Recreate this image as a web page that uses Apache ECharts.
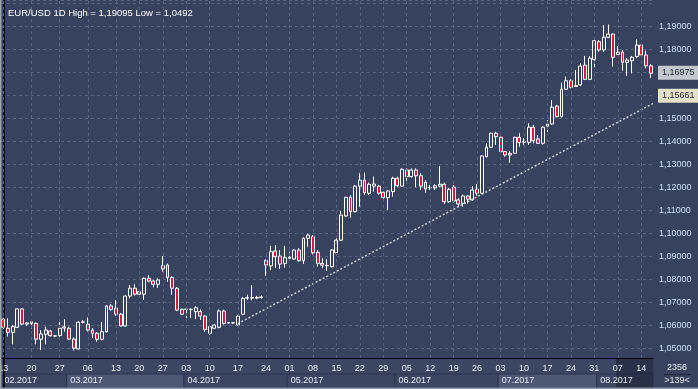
<!DOCTYPE html>
<html>
<head>
<meta charset="utf-8">
<script src="https://cdn.jsdelivr.net/npm/echarts@6/dist/echarts.min.js"></script>
<style>
html,body{margin:0;padding:0;background:#37425e;}
#c{width:698px;height:389px;}
</style>
</head>
<body>
<div id="c"></div>
<script>
// ---- data ----
const opens = [1.0628,1.0589,1.0571,1.0593,1.0673,1.0607,1.0610,1.0610,1.0541,1.0563,
1.0577,1.0556,1.0557,1.0590,1.0589,1.0542,1.0499,1.0615,1.0607,1.0581,
1.0567,1.0541,1.0574,1.0686,1.0676,1.0650,1.0599,1.0729,1.0763,1.0737,
1.0737,1.0806,1.0794,1.0780,1.0847,1.0864,1.0810,1.0763,1.0671,1.0671,
1.0671,1.0661,1.0661,1.0642,1.0567,1.0589,1.0593,1.0664,1.0612,1.0612,
1.0603,1.0650,1.0720,1.0722,1.0720,1.0723,1.0884,1.0860,1.0925,1.0903,
1.0871,1.0893,1.0890,1.0929,1.0883,1.0980,1.0987,1.0919,1.0871,1.0861,
1.0857,1.0917,1.0972,1.1077,1.1158,1.1096,1.1207,1.1233,1.1176,1.1207,
1.1207,1.1180,1.1157,1.1183,1.1241,1.1207,1.1277,1.1248,1.1277,1.1252,
1.1223,1.1200,1.1199,1.1207,1.1215,1.1139,1.1202,1.1147,1.1132,1.1164,
1.1147,1.1193,1.1176,1.1335,1.1376,1.1437,1.1419,1.1357,1.1349,1.1350,
1.1419,1.1398,1.1397,1.1463,1.1412,1.1393,1.1468,1.1477,1.1555,1.1509,
1.1628,1.1665,1.1640,1.1647,1.1733,1.1671,1.1758,1.1835,1.1799,1.1854,
1.1868,1.1779,1.1789,1.1745,1.1752,1.1770,1.1820,1.1777,1.1730];
const closes = [1.0593,1.0571,1.0596,1.0673,1.0607,1.0612,1.0617,1.0541,1.0564,1.0581,
1.0557,1.0555,1.0589,1.0595,1.0542,1.0502,1.0615,1.0617,1.0581,1.0567,
1.0541,1.0574,1.0686,1.0671,1.0650,1.0599,1.0729,1.0763,1.0737,1.0748,
1.0806,1.0794,1.0780,1.0799,1.0861,1.0810,1.0763,1.0668,1.0650,1.0672,
1.0670,1.0678,1.0642,1.0584,1.0596,1.0603,1.0664,1.0610,1.0613,1.0613,
1.0642,1.0718,1.0722,1.0720,1.0723,1.0725,1.0864,1.0922,1.0900,1.0868,
1.0896,1.0898,1.0929,1.0883,1.0980,1.0994,1.0917,1.0871,1.0863,1.0862,
1.0929,1.0972,1.1081,1.1158,1.1096,1.1207,1.1233,1.1178,1.1215,1.1216,
1.1176,1.1157,1.1186,1.1241,1.1209,1.1280,1.1248,1.1277,1.1252,1.1207,
1.1194,1.1201,1.1208,1.1215,1.1139,1.1193,1.1142,1.1129,1.1164,1.1150,
1.1190,1.1176,1.1338,1.1376,1.1437,1.1422,1.1357,1.1342,1.1342,1.1419,
1.1397,1.1400,1.1463,1.1404,1.1393,1.1463,1.1477,1.1550,1.1509,1.1628,
1.1665,1.1636,1.1644,1.1729,1.1671,1.1763,1.1839,1.1799,1.1854,1.1868,
1.1767,1.1789,1.1745,1.1755,1.1767,1.1820,1.1777,1.1730,1.16975];
const lows = [1.0585,1.0553,1.0519,1.0590,1.0603,1.0600,1.0588,1.0519,1.0494,1.0519,
1.0552,1.0550,1.0552,1.0574,1.0538,1.0492,1.0495,1.0610,1.0575,1.0546,
1.0530,1.0536,1.0570,1.0665,1.0643,1.0596,1.0596,1.0719,1.0731,1.0733,
1.0712,1.0789,1.0767,1.0764,1.0835,1.0791,1.0734,1.0663,1.0646,1.0633,
1.0633,1.0629,1.0625,1.0574,1.0560,1.0586,1.0589,1.0605,1.0609,1.0609,
1.0600,1.0645,1.0712,1.0710,1.0715,1.0718,1.0817,1.0842,1.0852,1.0847,
1.0852,1.0883,1.0886,1.0878,1.0868,1.0943,1.0910,1.0857,1.0850,1.0838,
1.0853,1.0913,1.0968,1.1074,1.1070,1.1092,1.1117,1.1168,1.1168,1.1183,
1.1170,1.1153,1.1103,1.1161,1.1203,1.1203,1.1230,1.1245,1.1202,1.1190,
1.1177,1.1190,1.1190,1.1202,1.1129,1.1135,1.1136,1.1117,1.1117,1.1132,
1.1143,1.1166,1.1172,1.1332,1.1372,1.1386,1.1350,1.1335,1.1309,1.1347,
1.1378,1.1385,1.1386,1.1393,1.1390,1.1386,1.1443,1.1473,1.1506,1.1506,
1.1625,1.1632,1.1639,1.1642,1.1668,1.1668,1.1719,1.1791,1.1791,1.1850,
1.1726,1.1777,1.1709,1.1686,1.1697,1.1763,1.1770,1.1719,1.1676];
const highs = [1.0635,1.0632,1.0603,1.0676,1.0676,1.0615,1.0624,1.0614,1.0581,1.0596,
1.0582,1.0558,1.0628,1.0628,1.0596,1.0549,1.0620,1.0624,1.0636,1.0590,
1.0572,1.0617,1.0690,1.0694,1.0712,1.0655,1.0734,1.0777,1.0780,1.0752,
1.0810,1.0820,1.0799,1.0806,1.0903,1.0870,1.0815,1.0768,1.0675,1.0676,
1.0676,1.0685,1.0671,1.0646,1.0603,1.0607,1.0671,1.0670,1.0615,1.0615,
1.0646,1.0725,1.0735,1.0777,1.0730,1.0732,1.0888,1.0947,1.0951,1.0929,
1.0947,1.0922,1.0932,1.0937,1.0984,1.0999,1.0994,1.0929,1.0893,1.0889,
1.0933,1.0980,1.1099,1.1161,1.1168,1.1212,1.1263,1.1265,1.1222,1.1248,
1.1212,1.1183,1.1190,1.1248,1.1248,1.1284,1.1284,1.1284,1.1284,1.1263,
1.1232,1.1212,1.1215,1.1294,1.1222,1.1199,1.1212,1.1154,1.1170,1.1168,
1.1207,1.1216,1.1342,1.1393,1.1439,1.1443,1.1422,1.1360,1.1360,1.1422,
1.1437,1.1415,1.1480,1.1473,1.1429,1.1468,1.1494,1.1581,1.1560,1.1657,
1.1683,1.1671,1.1712,1.1741,1.1773,1.1772,1.1850,1.1842,1.1907,1.19095,
1.1871,1.1816,1.1799,1.1763,1.1773,1.1845,1.1828,1.1796,1.1738];

// week tick labels (candle index of each Monday, day-of-month text)
const weekIdx  = [0,6,12,18,24,29,34,39,44,50,56,61,66,71,76,81,86,91,96,101,106,111,116,121,126,131,136];
const weekText = ['13','20','27','06','13','20','27','03','10','17','24','01','08','15','22','29','05','12','19','26','03','10','17','24','31','07','14'];
// month strip
const monthStart = [0,14,39,61,84,106,127];
const monthText  = ['02.2017','03.2017','04.2017','05.2017','06.2017','07.2017','08.2017'];
// trend line (candle index, price)
const trendIdx   = [50, 138.5];
const trendPrice = [1.0609, 1.15661];
const lastPrice  = 1.16975;
const titleText  = 'EUR/USD 1D High = 1,19095 Low = 1,0492';

// ---- styles ----
const BG = '#37425e';
const RED = '#e3133f';
const FONT = 'Liberation Sans, Arial, sans-serif';
const monthFill = ['#3b4662','#4c5874','#3b4662','#3b4662','#3b4662','#4c5874','#3b4662'];

const N = opens.length;
const cats = opens.map((_, i) => String(i));
const candles = opens.map((o, i) => [o, closes[i], lows[i], highs[i]]);
const weekMap = {};
weekIdx.forEach((k, j) => { weekMap[k] = weekText[j]; });
const fmt = v => v.toFixed(5).replace('.', ',');

const monthAreas = monthStart.map((s, j) => {
  const e = j + 1 < monthStart.length ? monthStart[j + 1] - 1 : N - 1;
  return [
    { xAxis: s - 0.5, yAxis: 1, name: monthText[j], itemStyle: { color: monthFill[j], borderColor: '#2c3550', borderWidth: 1 } },
    { xAxis: e + 0.5, yAxis: 15 }
  ];
});

const chart = echarts.init(document.getElementById('c'), null, { renderer: 'canvas' });
chart.setOption({
  animation: false,
  backgroundColor: BG,
  textStyle: { fontFamily: FONT },
  title: {
    text: titleText, left: 3, top: 3,
    textStyle: { color: '#ffffff', fontSize: 9.5, fontWeight: 'normal', fontFamily: FONT }
  },
  grid: [
    { left: 1, right: 45, top: 0, height: 358, show: false, containLabel: false, outerBoundsMode: 'none' },
    { left: 1, right: 45, top: 358, height: 31, show: false, containLabel: false, outerBoundsMode: 'none' }
  ],
  xAxis: [
    {
      type: 'category', data: cats, gridIndex: 0, boundaryGap: true, z: 5,
      axisLine: { show: true, lineStyle: { color: '#000000', width: 1 } },
      axisTick: { show: false },
      splitLine: { show: false },
      axisLabel: {
        interval: (i) => weekMap[i] !== undefined,
        formatter: (v, i) => weekMap[i] !== undefined ? weekMap[i] : '',
        color: '#e6ebf3', fontSize: 9, fontFamily: FONT, margin: 6, hideOverlap: false
      }
    },
    { type: 'value', gridIndex: 0, min: -0.5, max: N - 0.5, show: false },
    { type: 'value', gridIndex: 1, min: -0.5, max: N - 0.5, show: false }
  ],
  yAxis: [
    {
      type: 'value', gridIndex: 0, position: 'right', offset: 2,
      min: 1.04596, max: 1.20161, splitNumber: 15,
      axisLine: { show: true, lineStyle: { color: '#000000', width: 1.5 } },
      axisTick: { show: false },
      splitLine: { show: true, lineStyle: { color: '#56627e', type: [3, 3], width: 1 } },
      axisLabel: {
        showMinLabel: false, showMaxLabel: false,
        formatter: v => (v > 1.0495 && v < 1.195) ? fmt(v) : '',
        color: '#cfe0f6', fontSize: 9, fontFamily: FONT, margin: 4
      }
    },
    {
      type: 'value', gridIndex: 1, position: 'right', offset: 2, min: 0, max: 31, z: 5,
      axisLine: { show: true, lineStyle: { color: '#000000', width: 1.5 } },
      axisTick: { show: false }, axisLabel: { show: false }, splitLine: { show: false }
    }
  ],
  graphic: [
    { type: 'rect', shape: { x: 0, y: 0, width: 1.5, height: 389 }, style: { fill: '#9aa2b2' }, z: 100 },
    { type: 'rect', shape: { x: 0, y: 387.5, width: 698, height: 1.5 }, style: { fill: '#8f98a9' }, z: 100 },
    { type: 'text', style: { x: 677, y: 368, text: '2356', fill: '#e6ebf3', font: '9px ' + FONT, align: 'center', verticalAlign: 'middle' }, z: 100 },
    { type: 'line', shape: { x1: 664, y1: 374.5, x2: 691, y2: 374.5 }, style: { stroke: '#1e263a', lineWidth: 1 }, z: 100 },
    { type: 'text', style: { x: 677, y: 381, text: '>139<', fill: '#e6ebf3', font: '9px ' + FONT, align: 'center', verticalAlign: 'middle' }, z: 100 }
  ],
  series: [
    {
      // weekly vertical grid lines
      type: 'line', xAxisIndex: 1, yAxisIndex: 0, data: [], z: 1, silent: true,
      markLine: {
        silent: true, symbol: ['none', 'none'], animation: false,
        label: { show: false },
        lineStyle: { color: '#56627e', type: [3, 3], width: 1 },
        data: weekIdx.map(k => ({ xAxis: k }))
      }
    },
    {
      type: 'candlestick', xAxisIndex: 0, yAxisIndex: 0, data: candles, z: 3, clip: false,
      barWidth: 3.4,
      itemStyle: { color: BG, color0: RED, borderColor: '#ffffff', borderColor0: '#ffffff', borderWidth: 1 },
      markLine: {
        silent: true, symbol: ['none', 'none'], animation: false,
        lineStyle: { color: 'rgba(0,0,0,0)', width: 0 },
        label: {
          show: true, position: 'end', formatter: fmt(lastPrice), distance: 5,
          backgroundColor: '#c3c7ce', color: '#1d2535', fontSize: 9, fontFamily: FONT, padding: [3, 4, 2, 4]
        },
        data: [{ yAxis: lastPrice }]
      }
    },
    {
      type: 'line', xAxisIndex: 1, yAxisIndex: 0, z: 4, silent: true, clip: false,
      data: trendIdx.map((k, i) => [k, trendPrice[i]]),
      symbol: 'none',
      lineStyle: { color: '#cdd0d8', width: 1.5, type: [2, 2] },
      markLine: {
        silent: true, symbol: ['none', 'none'], animation: false,
        lineStyle: { color: 'rgba(0,0,0,0)', width: 0 },
        label: {
          show: true, position: 'end', formatter: fmt(trendPrice[1]), distance: 5,
          backgroundColor: '#e4e2c6', color: '#1d2535', fontSize: 9, fontFamily: FONT, padding: [3, 4, 2, 4]
        },
        data: [{ yAxis: trendPrice[1] }]
      }
    },
    {
      // bottom strip: month boxes and scroll overlay
      type: 'line', xAxisIndex: 2, yAxisIndex: 1, data: [], silent: true, z: -1,
      markArea: {
        silent: true,
        label: { show: true, position: 'insideLeft', distance: 4, color: '#e6ebf3', fontSize: 9, fontFamily: FONT },
        data: [
          [{ xAxis: -0.5, yAxis: 15, itemStyle: { color: '#3b4662' }, label: { show: false } }, { xAxis: N - 0.5, yAxis: 31 }]
        ].concat(monthAreas).concat([
          [{ xAxis: 130.6, yAxis: 0, itemStyle: { color: 'rgba(18,24,40,0.45)' }, label: { show: false } }, { xAxis: N - 0.5, yAxis: 31 }]
        ])
      }
    }
  ]
});
</script>
</body>
</html>
